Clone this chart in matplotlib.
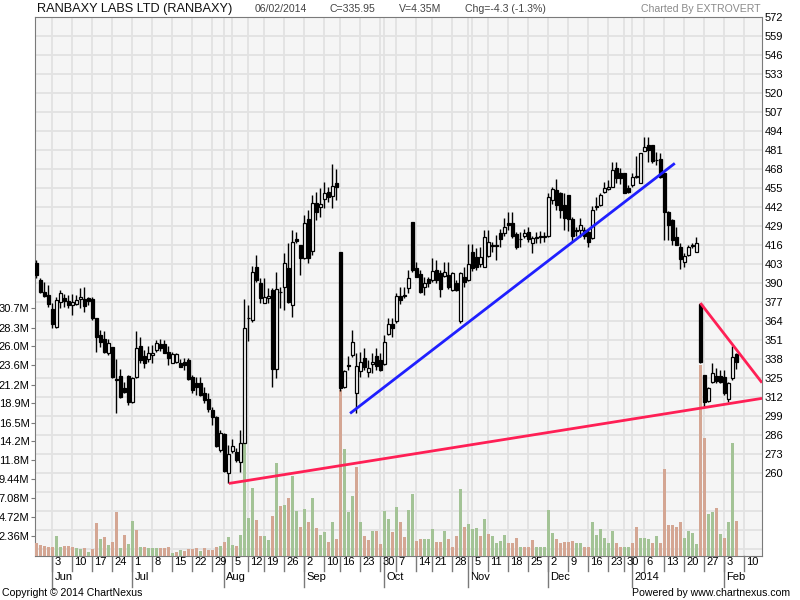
import numpy as np
import matplotlib
matplotlib.use("Agg")
import matplotlib.pyplot as plt
import matplotlib.transforms as mtransforms

plt.rcParams['font.family'] = ['Liberation Sans', 'DejaVu Sans']

# daily OHLC, one row per trading day (28 May 2013 .. 6 Feb 2014)
ohlc = [
    (403.6, 405.9, 393.4, 395.7), (392.3, 393.4, 383.1, 384.3), (384.3, 391.1, 380.8, 381.5),
    (382.0, 388.8, 374.0, 375.6), (372.4, 376.3, 359.2, 361.9), (359.9, 380.8, 359.2, 378.6),
    (377.0, 385.4, 372.9, 383.6), (379.7, 382.7, 374.0, 378.1), (378.1, 382.0, 372.9, 375.2),
    (375.2, 382.7, 368.3, 377.0), (375.8, 382.0, 375.2, 378.6), (379.0, 386.6, 372.9, 380.4),
    (379.0, 387.2, 370.6, 374.5), (379.7, 380.8, 375.2, 378.1), (379.0, 380.4, 364.9, 366.0),
    (366.0, 366.0, 342.8, 353.0), (354.6, 358.1, 346.6, 350.0), (352.0, 357.6, 342.1, 342.8),
    (342.1, 351.7, 340.9, 348.9), (346.6, 346.6, 325.0, 325.6), (324.5, 338.0, 301.5, 324.0),
    (326.6, 331.2, 311.3, 312.4), (318.1, 322.7, 314.7, 315.9), (326.6, 327.3, 306.7, 309.0),
    (309.0, 325.6, 307.9, 325.0), (325.6, 357.4, 325.0, 345.5), (347.1, 353.5, 335.2, 337.5),
    (340.3, 344.4, 331.8, 335.2), (338.1, 347.1, 336.4, 342.1), (341.0, 347.8, 335.2, 342.1),
    (344.4, 351.2, 343.2, 348.9), (348.3, 351.7, 343.9, 345.5), (348.5, 351.2, 342.1, 342.1),
    (342.8, 347.1, 334.1, 338.6), (335.7, 343.2, 335.2, 341.4), (336.4, 342.1, 335.7, 341.4),
    (335.7, 338.0, 333.0, 333.0), (336.4, 338.6, 330.7, 334.1), (337.5, 338.6, 323.8, 324.3),
    (326.1, 327.3, 314.7, 317.0), (321.5, 325.6, 313.6, 319.3), (322.0, 325.6, 312.9, 313.6),
    (314.7, 319.3, 307.9, 310.2), (310.6, 314.7, 302.2, 303.8), (303.3, 305.6, 293.0, 298.8),
    (298.8, 299.2, 278.2, 278.7), (276.0, 289.6, 274.8, 287.3), (286.9, 287.3, 261.1, 261.8),
    (260.0, 279.4, 253.1, 273.0), (275.5, 283.2, 273.6, 278.7), (274.8, 277.2, 268.0, 269.1),
    (268.0, 289.6, 261.1, 281.0), (281.0, 379.0, 281.0, 359.2), (366.5, 375.2, 350.7, 366.0),
    (364.9, 401.8, 363.7, 397.9), (400.9, 409.4, 391.1, 392.3), (390.0, 393.4, 376.3, 379.7),
    (376.7, 393.4, 376.3, 380.8), (379.7, 386.6, 376.3, 381.3), (385.4, 386.6, 319.3, 331.2),
    (331.6, 398.0, 325.0, 385.9), (384.3, 387.7, 372.9, 383.8), (387.7, 410.5, 371.7, 403.6),
    (400.3, 417.3, 376.3, 377.4), (375.2, 426.5, 367.2, 418.5), (420.3, 425.3, 417.3, 418.9),
    (416.2, 416.2, 395.7, 407.1), (407.1, 436.7, 406.6, 431.0), (433.8, 440.2, 404.1, 407.1),
    (412.4, 450.4, 409.4, 444.7), (445.2, 452.7, 433.3, 439.0), (442.4, 455.0, 435.1, 444.4),
    (448.0, 459.5, 441.3, 451.5), (452.7, 456.1, 445.9, 448.8), (449.7, 471.6, 441.3, 456.6),
    (458.4, 468.0, 447.0, 456.2), (411.2, 411.2, 316.0, 318.1), (318.8, 330.7, 318.1, 330.2),
    (334.1, 340.3, 330.7, 333.5), (340.9, 358.1, 339.8, 350.0), (315.2, 342.1, 301.5, 333.4),
    (330.2, 343.2, 325.6, 336.4), (338.6, 345.5, 330.7, 332.5), (329.6, 337.5, 326.1, 331.8),
    (334.8, 342.1, 328.4, 336.4), (340.3, 345.5, 330.7, 333.4), (337.5, 342.1, 330.2, 330.7),
    (334.8, 354.6, 334.1, 350.0), (355.3, 366.0, 354.6, 362.1), (362.2, 366.0, 353.0, 359.2),
    (364.4, 383.1, 362.6, 381.5), (381.5, 387.7, 375.8, 378.6), (381.5, 387.7, 379.7, 381.3),
    (386.6, 399.1, 383.6, 393.4), (431.7, 431.7, 398.0, 399.1), (400.2, 404.8, 394.5, 394.5),
    (396.4, 399.1, 383.1, 384.3), (387.7, 394.5, 382.0, 390.0), (392.7, 394.5, 387.7, 390.4),
    (392.3, 407.1, 391.1, 398.6), (399.1, 405.9, 390.0, 392.3), (396.8, 399.1, 380.9, 385.9),
    (395.0, 404.8, 394.5, 398.0), (395.7, 404.8, 385.9, 387.7), (385.4, 398.0, 385.0, 396.8),
    (390.4, 392.3, 385.0, 385.4), (364.4, 398.0, 362.6, 397.3), (394.5, 401.4, 387.7, 391.1),
    (392.3, 416.9, 391.8, 403.2), (411.6, 416.9, 398.6, 400.2), (408.2, 413.9, 399.1, 401.4),
    (403.2, 415.1, 401.4, 408.2), (401.4, 426.5, 400.9, 421.4), (408.7, 426.5, 408.2, 418.5),
    (416.0, 418.5, 411.6, 415.5), (416.0, 423.0, 405.9, 415.3), (424.6, 426.9, 415.1, 420.1),
    (424.6, 434.5, 422.4, 428.3), (431.0, 439.0, 426.5, 429.9), (431.0, 439.0, 420.8, 422.3),
    (423.7, 425.3, 413.3, 414.6), (420.5, 425.3, 415.1, 420.0), (422.4, 426.9, 420.8, 424.6),
    (425.3, 428.7, 418.5, 420.1), (417.8, 422.4, 411.0, 420.8), (421.6, 425.3, 417.3, 421.2),
    (422.4, 426.0, 417.3, 422.0), (421.8, 425.3, 418.0, 422.2), (422.4, 451.5, 421.9, 448.8),
    (447.0, 456.1, 444.3, 454.3), (453.8, 461.1, 440.2, 443.6), (451.6, 452.7, 434.5, 440.2),
    (443.6, 451.6, 426.5, 434.5), (450.4, 450.4, 426.0, 433.8), (433.8, 435.1, 419.2, 422.4),
    (426.5, 428.3, 422.4, 426.0), (426.5, 434.5, 421.5, 429.9), (426.5, 428.3, 420.1, 422.4),
    (425.3, 426.5, 415.1, 418.5), (420.8, 442.9, 420.1, 440.1), (442.4, 449.3, 440.1, 442.0),
    (443.6, 451.6, 442.9, 450.4), (452.7, 459.5, 451.6, 455.0), (454.3, 460.7, 453.8, 455.7),
    (456.1, 473.2, 455.7, 467.5), (468.7, 473.2, 458.4, 461.8), (465.2, 468.7, 457.9, 461.8),
    (465.7, 465.7, 451.6, 452.0), (455.0, 457.3, 452.0, 452.2), (457.3, 465.7, 456.1, 462.5),
    (462.5, 477.1, 461.8, 463.3), (458.9, 479.5, 458.4, 478.9), (480.8, 489.9, 480.8, 483.0),
    (484.6, 490.3, 473.2, 481.2), (484.6, 484.6, 472.1, 473.9), (474.5, 480.1, 470.9, 474.1),
    (474.8, 479.4, 461.8, 463.0), (465.2, 466.4, 419.6, 439.0), (439.0, 439.5, 419.6, 429.9),
    (433.3, 433.8, 416.2, 419.6), (421.9, 428.7, 416.2, 416.2), (415.1, 417.3, 399.6, 406.4),
    (404.8, 411.0, 401.4, 408.7), (409.4, 416.2, 408.7, 414.6), (415.7, 417.3, 413.9, 415.3),
    (411.6, 421.5, 411.4, 417.3),
    (375.8, 376.7, 335.3, 336.4), (327.3, 327.3, 305.6, 309.0), (309.7, 319.3, 309.0, 318.1),
    (322.7, 335.3, 321.5, 328.4), (326.6, 331.8, 321.5, 323.4), (326.6, 330.7, 321.5, 322.7),
    (326.1, 330.7, 313.6, 314.7), (310.6, 322.7, 309.0, 322.0), (325.0, 347.1, 323.8, 339.8),
    (341.6, 342.5, 331.1, 335.95),
]

# volume in millions and its colour flag (g = up day, r = down day)
volume = [
    1.51, 1.30, 1.18, 1.10, 1.10, 2.46, 1.10, 1.18, 1.18, 1.10, 0.87, 0.79, 0.95, 0.46, 0.79,
    4.0, 2.0, 2.3, 1.35, 1.64, 5.45, 0.95, 2.6, 1.39, 4.3, 3.2, 1.1, 1.1, 0.95, 0.95,
    0.95, 0.87, 0.87, 1.1, 0.37, 0.46, 0.66, 0.54, 0.79, 0.79, 0.95, 0.54, 0.95, 0.66, 0.66,
    1.1, 1.18, 1.68, 2.3, 1.3, 1.18, 2.55, 14.0, 4.7, 8.4, 4.4, 2.4, 2.4, 1.9, 4.9,
    11.5, 6.1, 6.3, 7.1, 9.9, 5.5, 3.6, 5.8, 4.1, 7.2, 3.4, 2.6, 2.9, 1.7, 4.1,
    2.1, 20.6, 13.2, 5.4, 7.4, 11.0, 4.2, 2.4, 1.9, 3.1, 3.1, 1.4, 5.5, 4.5, 2.9,
    6.0, 4.2, 2.3, 5.7, 7.7, 1.8, 2.1, 2.1, 2.1, 3.3, 1.7, 1.7, 3.0, 2.0, 1.1, 2.4,
    8.3, 3.5, 3.9, 3.3, 3.4, 2.4, 4.5, 2.7, 2.4, 1.5, 1.8, 2.5, 1.5, 1.6, 2.2,
    1.0, 1.0, 1.0, 1.9, 1.1, 1.0, 1.0, 5.6, 2.8, 2.1, 1.6, 1.7, 1.7, 1.8, 1.6, 1.6,
    1.1, 1.0, 4.2, 2.5, 3.3, 2.2, 1.5, 3.0, 1.6, 1.1, 1.0, 1.1, 1.5, 3.5, 2.2,
    2.2, 2.1, 1.5, 2.4, 1.6, 10.7, 3.8, 3.8, 3.6, 4.1, 2.2, 3.0, 2.8, 1.4,
    23.7, 14.6, 5.2, 5.4, 5.9, 2.7, 2.2, 4.1, 14.0, 4.3,
]
vol_dir = ("rrrrrggrrrggrgrrgrgrrgrggrgrgggrrrgrgrrrrgrrrrgrggrggggr"
           "rggrgrgrggrgrgrggrgrrgggrgrrgrrgg"
           "rgrrggrrgggrrgrrrgrgggrgrggggrrrgrrrgg" "g"
           "ggrrrrrggrrggggggrrggrrgggrgrrrrrrgggg"
           "rrggrgrggr")

# x axis: week ticks and month ticks as trading-day positions
week_pos = [4, 9, 14, 19, 24, 29, 34, 39, 44, 49, 53, 57, 62, 67, 72, 76, 81, 86, 90, 95,
            99, 104, 109, 113, 118, 123, 128, 133, 138, 143, 147, 152, 157, 162, 167, 172, 177]
week_lbl = ['3', '10', '17', '24', '1', '8', '15', '22', '29', '5', '12', '19', '26', '2',
            '10', '16', '23', '30', '7', '14', '21', '28', '5', '11', '18', '25', '2', '9',
            '16', '23', '30', '6', '13', '20', '27', '3', '10']
month_pos = [4, 24, 47, 67, 87, 108, 128, 149, 172]
month_lbl = ['Jun', 'Jul', 'Aug', 'Sep', 'Oct', 'Nov', 'Dec', '2014', 'Feb']

price_ticks = [572, 559, 546, 533, 520, 507, 494, 481, 468, 455, 442, 429, 416, 403, 390,
               377, 364, 351, 338, 325, 312, 299, 286, 273, 260]
vol_ticks = [2.36, 4.72, 7.08, 9.44, 11.8, 14.2, 16.5, 18.9, 21.2, 23.6, 26.0, 28.3, 30.7]
vol_lbl = ['2.36M', '4.72M', '7.08M', '9.44M', '11.8M', '14.2M', '16.5M', '18.9M', '21.2M',
           '23.6M', '26.0M', '28.3M', '30.7M']

# trend lines drawn on the chart (day index, price)
blue_line = ([78.4, 159.6], [301.0, 472.1])
red_low = ([48.1, 181.4], [253.1, 311.3])
red_high = ([166.0, 181.4], [376.5, 322.0])

o = np.array([r[0] for r in ohlc])
h = np.array([r[1] for r in ohlc])
l = np.array([r[2] for r in ohlc])
c = np.array([r[3] for r in ohlc])
x = np.arange(len(ohlc))

GREEN = '#a3c396'
RED = '#d4a693'
GRID = '#e2e2e2'
EDGE = '#7a7a7a'

fig = plt.figure(figsize=(8, 6), dpi=100)
pos = [35 / 800, 1 - 555.5 / 600, 727 / 800, 538.2 / 600]
ax = fig.add_axes(pos)
axv = ax.twinx()   # volume, labelled on the left
axc = ax.twinx()   # candles on top

ax.set_facecolor('#f5f5f5')
ax.set_xlim(-0.375, 181.4)
ax.set_ylim(203.8, 572)

# grid
for p in np.arange(208, 572, 13):
    ax.axhline(p, color=GRID, lw=1.3, zorder=0)
for i in sorted(set(week_pos + month_pos)):
    ax.axvline(i, color=GRID, lw=1.3, zorder=0)

ax.set_yticks(price_ticks)
ax.set_yticklabels([str(p) for p in price_ticks], fontsize=8)
ax.tick_params(axis='y', length=0, pad=2, left=False, labelleft=False, right=False,
               labelright=True)
ax.set_xticks([])
for s in ax.spines.values():
    s.set_color(EDGE)

# volume
axv.set_ylim(0, 66.85)
axv.bar(x, volume, width=0.75, color=[GREEN if d == 'g' else RED for d in vol_dir],
        linewidth=0, zorder=2)
axv.set_yticks(vol_ticks)
axv.set_yticklabels(vol_lbl, fontsize=8)
axv.tick_params(axis='y', length=3, color=EDGE, pad=1, left=True, labelleft=True,
                right=False, labelright=False)
for s in axv.spines.values():
    s.set_visible(False)

# candles
axc.set_ylim(ax.get_ylim())
axc.set_yticks([])
axc.tick_params(axis='y', left=False, right=False, labelleft=False, labelright=False)
for s in axc.spines.values():
    s.set_visible(False)
axc.vlines(x, l, h, color='black', lw=1.0, zorder=2)
up = c >= o
body = np.abs(c - o)
body = np.where(body < 0.6, 0.6, body)
axc.bar(x[up], body[up], bottom=np.minimum(o, c)[up], width=0.62, color='white',
        edgecolor='black', linewidth=0.9, zorder=3)
axc.bar(x[~up], body[~up], bottom=np.minimum(o, c)[~up], width=0.62, color='black',
        edgecolor='black', linewidth=0.9, zorder=3)

axc.plot(*blue_line, color='#1f1fff', lw=2, zorder=4, solid_capstyle='butt')
axc.plot(*red_low, color='#ff1f55', lw=2, zorder=4, solid_capstyle='butt')
axc.plot(*red_high, color='#ff1f55', lw=2, zorder=4, solid_capstyle='butt')
axc.set_xlim(ax.get_xlim())

# x axis ticks, drawn below the plot
trans = mtransforms.blended_transform_factory(ax.transData, ax.transAxes)
hpx = 538.2
for i, t in zip(week_pos, week_lbl):
    ax.plot([i, i], [0, -15 / hpx], transform=trans, color=EDGE, lw=1, clip_on=False)
    ax.text(i, -1.5 / hpx, t, transform=mtransforms.offset_copy(trans, fig, x=2, units='dots'),
            ha='left', va='top', fontsize=8)
for i, t in zip(month_pos, month_lbl):
    ax.plot([i, i], [0, -31 / hpx], transform=trans, color=EDGE, lw=1, clip_on=False)
    ax.text(i, -17 / hpx, t, transform=mtransforms.offset_copy(trans, fig, x=2, units='dots'),
            ha='left', va='top', fontsize=8)

# header and footer
fig.text(37 / 800, 1 - 9 / 600, 'RANBAXY LABS LTD (RANBAXY)', fontsize=9.2, va='center', color='#111111')
fig.text(255 / 800, 1 - 9 / 600, '06/02/2014', fontsize=7.6, va='center', color='#444444')
fig.text(330 / 800, 1 - 9 / 600, 'C=335.95', fontsize=7.6, va='center', color='#444444')
fig.text(399 / 800, 1 - 9 / 600, 'V=4.35M', fontsize=7.6, va='center', color='#444444')
fig.text(465 / 800, 1 - 9 / 600, 'Chg=-4.3 (-1.3%)', fontsize=7.6, va='center', color='#444444')
fig.text(761 / 800, 1 - 9 / 600, 'Charted By EXTROVERT', fontsize=7.6, va='center', ha='right',
         color='#8a8a8a')
fig.text(2 / 800, 1 - 593 / 600, 'Copyright \u00a9 2014 ChartNexus', fontsize=7.6, va='center')
fig.text(790 / 800, 1 - 593 / 600, 'Powered by www.chartnexus.com', fontsize=7.6, va='center',
         ha='right')

fig.savefig('out.png', dpi=100)
